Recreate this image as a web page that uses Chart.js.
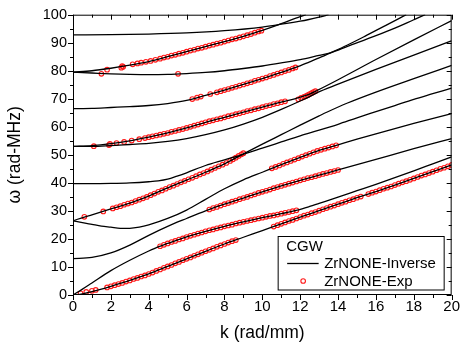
<!DOCTYPE html>
<html>
<head>
<meta charset="utf-8">
<script src="https://cdn.jsdelivr.net/npm/chart.js@4.4.1/dist/chart.umd.min.js"></script>
<style>
  html, body { margin: 0; padding: 0; background: #fff; }
  #chart { display: block; }
</style>
</head>
<body>
<canvas id="chart" width="463" height="344"></canvas>
<script>
// ZrNONE-Inverse: theory curves, [k (rad/mm), omega (rad-MHz)]
const curveA0   = [[0,0],[0.5,0.4],[1,1.2],[1.5,2.1],[2,3.1],[3,5.2],[4,7.5],[5,10.2],[6,12.9],[7,15.6],[8,18.2],[9,20.6],[10,23],[11,25.4],[12,27.8],[13,30.1],[14,32.4],[15,34.7],[16,36.9],[17,39.2],[18,41.6],[19,44],[20,46.4]];
const curveS0   = [[0,0],[0.5,2.1],[1,4.3],[2,8.7],[3,12.4],[4,15.7],[4.5,17.2],[5,18.4],[6,20.7],[7,22.7],[8,24.5],[9,26.1],[10,27.6],[11,29],[11.85,30.3],[12.5,31.6],[13,32.7],[14,34.9],[15,37.2],[16,39.5],[17,41.9],[18,44.3],[19,46.8],[20,49.3]];
const curve13   = [[0,13],[1,13.4],[2,15],[3,17.8],[4,21.3],[5,24.5],[6,27.3],[7,30],[8,32.4],[9,34.6],[10,36.8],[11,38.9],[12,40.9],[13,42.8],[14,44.6],[16,48.4],[18,52.2],[20,55.8]];
const curve26dn = [[0,26.5],[0.5,25.8],[1,25.2],[1.5,24.6],[2,24.2],[2.5,23.8],[3,23.8],[3.5,24.2],[4,25],[5,27.3],[6,30.3],[7,34.1],[8,37.9],[9,41.1],[10,43.8],[11,46.5],[12,49.1],[13,51.6],[14,53.6],[15,55.6],[16,57.5],[18,61.2],[20,64.7]];
const curve26up = [[0,26.5],[0.6,27.8],[1,28.6],[2,30.7],[3,32.8],[4,35.3],[5,38.2],[6,41],[7,43.8],[8,46.8],[8.9,50],[10,53.8],[11,57.2],[12,60.6],[13,63.9],[13.4,65.2],[14.5,68.5],[16,72.4],[18,77.2],[20,81.9]];
const curve40   = [[0,39.7],[1,39.7],[2,39.8],[3,40],[4,40.4],[4.5,40.7],[5,41.3],[5.5,42.4],[6,43.6],[7,46.2],[8,48.2],[8.9,50],[10,52.4],[11,54.6],[12,56.8],[13,58.8],[14,60.9],[15,63.2],[16,65.4],[17,67.6],[18,69.8],[19,71.8],[20,73.8]];
const curve53lo = [[0,53],[1,53],[2,53.3],[3,53.7],[4,54.1],[5,54.8],[6,55.8],[7,57.2],[8,58.9],[9,61],[10,63.4],[11,66.2],[12,69.2],[12.5,70.8],[12.9,72.2],[14,75.2],[16,80.5],[18,85.6],[20,90.7]];
const curve53up = [[0,53],[1,53.3],[2,54],[3,55],[4,56.3],[5,57.8],[6,59.6],[7,61.6],[8,63.4],[9,65.2],[10,67],[11,68.8],[11.5,69.6],[12,70.6],[12.5,71.7],[12.9,73],[14,76.8],[16,84],[18,91],[20,97.9]];
const curve66   = [[0,66.5],[1,66.6],[2,66.9],[3,67.2],[4,67.6],[5,68.3],[6,69.4],[7,71.2],[8,73.1],[9,75.1],[10,77.2],[11,79.4],[11.77,81.2],[12.5,83.2],[13,84.6],[13.6,86.4],[14.5,89.2],[15.5,92.6],[16.5,96.1],[17.6,100]];
const curve80dn = [[0,79.5],[1,79.2],[2,78.9],[3,78.7],[4,78.6],[5,78.7],[6,79],[7,79.4],[8,80],[9,80.8],[10,81.7],[11,82.8],[12,84],[13,85.5],[13.6,86.4],[14.5,88.7],[16,92.5],[17,95.2],[18,98.2],[18.6,100]];
const curve80up = [[0,79.5],[1,80],[2,80.9],[3,82],[4,83.3],[5,85],[6,86.8],[7,88.6],[8,90.4],[9,92.3],[10,94.4],[11,96.8],[12,99.3],[12.3,100]];
const curve93   = [[0,92.8],[2,92.9],[4,93.1],[6,93.5],[8,94.3],[10,95.6],[11,96.6],[12,97.7],[12.4,98.2],[13,99.1],[13.5,100]];

// ZrNONE-Exp: measured points, [k, omega]
const expA0low  = [[0.4,0.6],[0.7,1.1],[1.0,1.5],[1.2,1.8],[1.8,2.7],[2.0,3.1],[2.2,3.5],[2.4,3.9],[2.6,4.3],[2.8,4.8],[3.0,5.2],[3.2,5.7],[3.4,6.1],[3.6,6.6],[3.8,7.0],[4.0,7.5],[4.2,8.0],[4.4,8.6],[4.6,9.1],[4.8,9.7],[5.0,10.2],[5.2,10.7],[5.4,11.3],[5.6,11.8],[5.8,12.4],[6.0,12.9],[6.2,13.4],[6.4,14.0],[6.6,14.5],[6.8,15.1],[7.0,15.6],[7.2,16.1],[7.4,16.6],[7.6,17.2],[7.8,17.7],[8.0,18.2],[8.2,18.7],[8.4,19.2],[8.6,19.6]];
const expA0high = [[10.6,24.4],[10.8,24.9],[11.0,25.4],[11.2,25.9],[11.4,26.4],[11.6,26.8],[11.8,27.3],[12.0,27.8],[12.2,28.3],[12.4,28.7],[12.6,29.2],[12.8,29.6],[13.0,30.1],[13.2,30.6],[13.4,31.0],[13.6,31.5],[13.8,31.9],[14.0,32.4],[14.2,32.9],[14.4,33.3],[14.6,33.8],[14.8,34.2],[15.0,34.7],[15.2,35.1],[15.6,36.0],[15.8,36.5],[16.0,36.9],[16.2,37.4],[16.4,37.9],[16.6,38.3],[16.8,38.7],[17.0,39.2],[17.2,39.7],[17.4,40.2],[17.6,40.6],[17.8,41.1],[18.0,41.6],[18.2,42.1],[18.4,42.6],[18.6,43.0],[18.8,43.5],[19.0,44.0],[19.2,44.5],[19.4,45.0],[19.6,45.4],[19.8,45.9],[20.0,46.4]];
const expS0     = [[4.6,17.4],[4.8,17.9],[5.0,18.4],[5.2,18.9],[5.4,19.3],[5.6,19.8],[5.8,20.2],[6.0,20.7],[6.2,21.1],[6.4,21.5],[6.6,21.9],[6.8,22.3],[7.0,22.7],[7.2,23.1],[7.4,23.4],[7.6,23.8],[7.8,24.1],[8.0,24.5],[8.2,24.8],[8.4,25.1],[8.6,25.5],[8.8,25.8],[9.0,26.1],[9.2,26.4],[9.4,26.7],[9.6,27.0],[9.8,27.3],[10.0,27.6],[10.2,27.9],[10.4,28.2],[10.6,28.4],[10.8,28.7],[11.0,29.0],[11.2,29.3],[11.4,29.6],[11.6,29.9],[11.8,30.2]];
const exp13     = [[7.2,30.5],[7.4,31.0],[7.6,31.4],[7.8,31.9],[8.0,32.4],[8.2,32.8],[8.4,33.3],[8.6,33.7],[8.8,34.2],[9.0,34.6],[9.2,35.0],[9.4,35.5],[9.6,35.9],[9.8,36.4],[10.0,36.8],[10.2,37.2],[10.4,37.6],[10.6,38.1],[10.8,38.5],[11.0,38.9],[11.2,39.3],[11.4,39.7],[11.6,40.1],[11.8,40.5],[12.0,40.9],[12.2,41.3],[12.4,41.7],[12.6,42.0],[12.8,42.4],[13.0,42.8],[13.2,43.2],[13.4,43.5],[13.6,43.9],[13.8,44.2],[14.0,44.6]];
const exp26dn   = [[10.5,45.2],[10.7,45.7],[10.9,46.2],[11.1,46.8],[11.3,47.3],[11.5,47.8],[11.7,48.3],[11.9,48.8],[12.1,49.4],[12.3,49.9],[12.5,50.4],[12.7,50.9],[12.9,51.4],[13.1,51.8],[13.3,52.2],[13.5,52.6],[13.7,53.0],[13.9,53.4]];
const exp26up   = [[0.6,27.9],[1.6,29.8],[2.1,30.9],[2.3,31.3],[2.5,31.7],[2.7,32.2],[2.9,32.6],[3.1,33.0],[3.3,33.5],[3.5,34.0],[3.7,34.5],[3.9,35.0],[4.1,35.6],[4.3,36.2],[4.5,36.8],[4.7,37.3],[4.9,37.9],[5.1,38.5],[5.3,39.0],[5.5,39.6],[5.7,40.2],[5.9,40.7],[6.1,41.3],[6.3,41.8],[6.5,42.4],[6.7,43.0],[6.9,43.5],[7.1,44.1],[7.3,44.7],[7.5,45.3],[7.7,45.9],[7.9,46.5],[8.1,47.1],[8.3,47.8],[8.45,48.4],[8.6,49.0],[8.75,49.6],[8.9,50.2],[9.0,50.6]];
const exp53     = [[1.1,53.1],[1.9,53.5],[1.95,53.9],[2.3,54.2],[2.7,54.6],[3.1,55.1],[3.5,55.6],[3.8,56.0],[4.0,56.3],[4.2,56.6],[4.4,56.9],[4.6,57.2],[4.8,57.5],[5.0,57.8],[5.2,58.2],[5.4,58.5],[5.6,58.9],[5.8,59.2],[6.0,59.6],[6.2,60.0],[6.4,60.4],[6.6,60.8],[6.8,61.2],[7.0,61.6],[7.2,62.0],[7.4,62.3],[7.6,62.7],[7.8,63.0],[8.0,63.4],[8.2,63.8],[8.4,64.1],[8.6,64.5],[8.8,64.8],[9.0,65.2],[9.2,65.6],[9.4,65.9],[9.6,66.3],[9.8,66.6],[10.0,67.0],[10.2,67.4],[10.4,67.7],[10.6,68.1],[10.8,68.4],[11.0,68.8],[11.2,69.1],[11.9,69.8],[12.05,70.3],[12.2,70.7],[12.3,71.0],[12.4,71.3],[12.5,71.7],[12.6,72.0],[12.7,72.4],[12.8,72.7]];
const exp66     = [[6.3,69.9],[6.55,70.4],[6.75,70.8],[7.25,71.7],[7.6,72.3],[7.8,72.7],[8.0,73.1],[8.2,73.5],[8.4,73.9],[8.6,74.3],[8.8,74.7],[9.0,75.1],[9.2,75.5],[9.4,75.9],[9.6,76.4],[9.8,76.8],[10.0,77.2],[10.2,77.6],[10.4,78.1],[10.6,78.5],[10.8,79.0],[11.0,79.4],[11.2,79.9],[11.4,80.3],[11.6,80.8],[11.75,81.2]];
const exp80     = [[1.5,78.9],[1.8,80.4],[2.55,81.1],[2.6,81.7],[2.65,81.4],[3.15,82.3],[3.4,82.6],[3.6,82.9],[3.85,83.2],[4.1,83.5],[4.35,83.9],[4.6,84.3],[4.8,84.7],[5.0,85.0],[5.2,85.4],[5.4,85.7],[5.6,86.1],[5.8,86.4],[6.0,86.8],[6.2,87.2],[6.4,87.5],[6.6,87.9],[6.8,88.2],[7.0,88.6],[7.2,89.0],[7.4,89.3],[7.6,89.7],[7.8,90.0],[8.0,90.4],[8.2,90.8],[8.4,91.2],[8.6,91.5],[8.8,91.9],[9.0,92.3],[9.2,92.7],[9.4,93.1],[9.6,93.6],[9.8,94.0],[9.95,94.3],[5.55,78.9]];

const xTicks = [0, 2, 4, 6, 8, 10, 12, 14, 16, 18, 20];
const yTicks = [0, 10, 20, 30, 40, 50, 60, 70, 80, 90, 100];

const FONT = "'Liberation Sans', Arial, Helvetica, sans-serif";
const RED = '#ff1a1a';

const theory = [curveA0, curveS0, curve13, curve26dn, curve26up, curve40,
                curve53lo, curve53up, curve66, curve80dn, curve80up, curve93];
const measured = [expA0low, expA0high, expS0, exp13, exp26dn, exp26up, exp53, exp66, exp80];

const toXY = arr => arr.map(([x, y]) => ({ x, y }));

const datasets = [
  ...theory.map(c => ({
    data: toXY(c),
    showLine: true,
    borderColor: '#000',
    borderWidth: 1.3,
    pointRadius: 0,
    cubicInterpolationMode: 'monotone',
    fill: false
  })),
  ...measured.map(s => ({
    data: toXY(s),
    showLine: false,
    pointStyle: 'circle',
    pointRadius: 2.3,
    pointBorderWidth: 1.1,
    pointBorderColor: RED,
    pointBackgroundColor: 'rgba(0,0,0,0)'
  }))
];

// frame, minor/major ticks and the boxed legend
const frameAndLegend = {
  id: 'frameAndLegend',
  afterDatasetsDraw(chart) {
    const { ctx, chartArea: a, scales: { x, y } } = chart;
    ctx.save();
    ctx.strokeStyle = '#000';
    ctx.lineWidth = 1;
    ctx.strokeRect(a.left + 0.5, a.top + 0.5, a.right - a.left - 1, a.bottom - a.top - 1);

    ctx.beginPath();
    for (let v = 0; v <= 20; v++) {
      const px = Math.round(x.getPixelForValue(v)) + 0.5;
      const len = v % 2 === 0 ? 5 : 3;
      ctx.moveTo(px, a.bottom); ctx.lineTo(px, a.bottom + len);
      ctx.moveTo(px, a.top); ctx.lineTo(px, a.top + len);
    }
    for (let v = 0; v <= 100; v += 5) {
      const py = Math.round(y.getPixelForValue(v)) + 0.5;
      const len = v % 10 === 0 ? 5 : 3;
      ctx.moveTo(a.left, py); ctx.lineTo(a.left - len, py);
      ctx.moveTo(a.right, py); ctx.lineTo(a.right - len, py);
    }
    ctx.stroke();

    // legend box
    const bx = a.right - 173.5, by = a.bottom - 58.5, bw = 166, bh = 53.5;
    ctx.fillStyle = '#fff';
    ctx.fillRect(bx, by, bw, bh);
    ctx.strokeRect(bx, by, bw, bh);
    ctx.fillStyle = '#000';
    ctx.font = `15px ${FONT}`;
    ctx.textBaseline = 'alphabetic';
    ctx.fillText('CGW', bx + 8, by + 14.2);
    ctx.fillText('ZrNONE-Inverse', bx + 46, by + 31.8);
    ctx.fillText('ZrNONE-Exp', bx + 46, by + 49.5);
    ctx.lineWidth = 1.3;
    ctx.beginPath();
    ctx.moveTo(bx + 9, by + 27); ctx.lineTo(bx + 40.5, by + 27);
    ctx.stroke();
    ctx.strokeStyle = RED;
    ctx.lineWidth = 1.1;
    ctx.beginPath();
    ctx.arc(bx + 25, by + 44.5, 2.3, 0, Math.PI * 2);
    ctx.stroke();
    ctx.restore();
  }
};

new Chart(document.getElementById('chart'), {
  type: 'scatter',
  data: { datasets },
  options: {
    responsive: false,
    animation: false,
    devicePixelRatio: 1,
    events: [],
    layout: { padding: { top: 14, right: 7, left: 0, bottom: 0 } },
    plugins: { legend: { display: false }, tooltip: { enabled: false } },
    scales: {
      x: {
        type: 'linear', min: 0, max: 20,
        afterFit: s => { s.height = 49; },
        afterBuildTicks: s => { s.ticks = xTicks.map(v => ({ value: v })); },
        grid: { display: false, drawTicks: false },
        border: { display: false },
        ticks: { color: '#000', font: { size: 15, family: FONT }, padding: 3, maxRotation: 0, autoSkip: false },
        title: { display: true, text: 'k (rad/mm)', color: '#000', font: { size: 17.5, family: FONT }, padding: { top: 0, bottom: 0 } }
      },
      y: {
        type: 'linear', min: 0, max: 100,
        afterFit: s => { s.width = 73; },
        afterBuildTicks: s => { s.ticks = yTicks.map(v => ({ value: v })); },
        grid: { display: false, drawTicks: false },
        border: { display: false },
        ticks: { color: '#000', font: { size: 14.5, family: FONT }, padding: 6, autoSkip: false },
        title: { display: true, text: 'ω (rad-MHz)', color: '#000', font: { size: 17.5, family: FONT }, padding: { top: 5, bottom: 0 } }
      }
    }
  },
  plugins: [frameAndLegend]
});
</script>
</body>
</html>
